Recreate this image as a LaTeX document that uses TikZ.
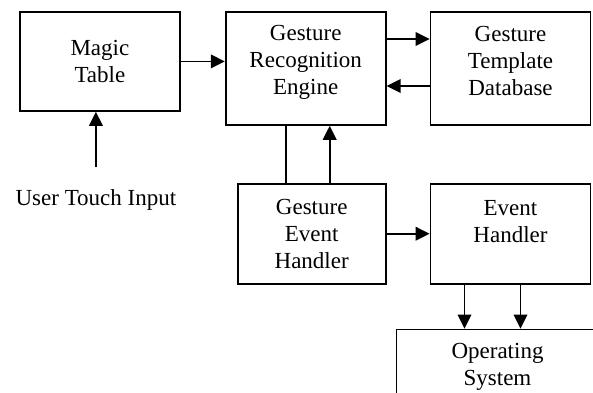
\documentclass[tikz,border=0pt]{standalone}
\usepackage{fontspec}
\setmainfont{Liberation Serif}
\usetikzlibrary{arrows.meta, positioning}

\begin{document}
\begin{tikzpicture}[
    font=\fontsize{11.5}{13.5}\selectfont,
    box/.style={draw, line width=0.9pt, text width=80pt, inner xsep=0pt,
                align=center, minimum height=50pt},
    lifted/.style={text depth=#1},
    plain/.style={inner sep=0pt},
    arr/.style={-{Triangle[length=7pt, width=6.8pt]}, line width=0.9pt}
]
\path[use as bounding box] (0,0) rectangle (296.5pt,-196pt);
\clip (0,0) rectangle (296.5pt,-196pt);

\node[box, minimum height=49.5pt, anchor=north west] (magic) at (9.5pt,-5.5pt) {Magic\\Table};
\node[box, minimum height=56.5pt, lifted=36pt, right=22pt of magic.north east, anchor=north west] (gre) {Gesture\\Recognition\\Engine};
\node[box, minimum height=56.5pt, lifted=34.5pt, right=21.5pt of gre.north east, anchor=north west] (gtd) {Gesture\\Template\\Database};
\node[box, text width=74pt, below=28.5pt of gre.south east, anchor=north east] (geh) {Gesture\\Event\\Handler};
\node[box, lifted=26pt, right=21.5pt of geh] (eh) {Event\\Handler};
\node[box, text width=101pt, lifted=29pt, below=22pt of eh.south west, anchor=north west, xshift=-17pt] (os) {Operating\\System};
\node[plain, below=44pt of magic.south, anchor=center, xshift=-2pt] (touch) {User Touch Input};

\draw[arr] (magic.east) -- (magic.east -| gre.west);
\draw[arr] ([yshift=-14pt]gre.north east) -- ([yshift=-14pt]gtd.north west);
\draw[arr] ([yshift=-37.5pt]gtd.north west) -- ([yshift=-37.5pt]gre.north east);
\draw[line width=0.9pt] ([xshift=-13pt]geh.north) -- ([xshift=-13pt]geh.north |- gre.south);
\draw[arr] ([xshift=9pt]geh.north) -- ([xshift=9pt]geh.north |- gre.south);
\draw[arr] (geh) -- (eh);
\draw[arr] ([xshift=-23pt]eh.south) -- ([xshift=-23pt]eh.south |- os.north);
\draw[arr] ([xshift=5pt]eh.south) -- ([xshift=5pt]eh.south |- os.north);
\draw[arr, shorten <=11pt] (touch.north) -- (touch.north |- magic.south);
\end{tikzpicture}
\end{document}
